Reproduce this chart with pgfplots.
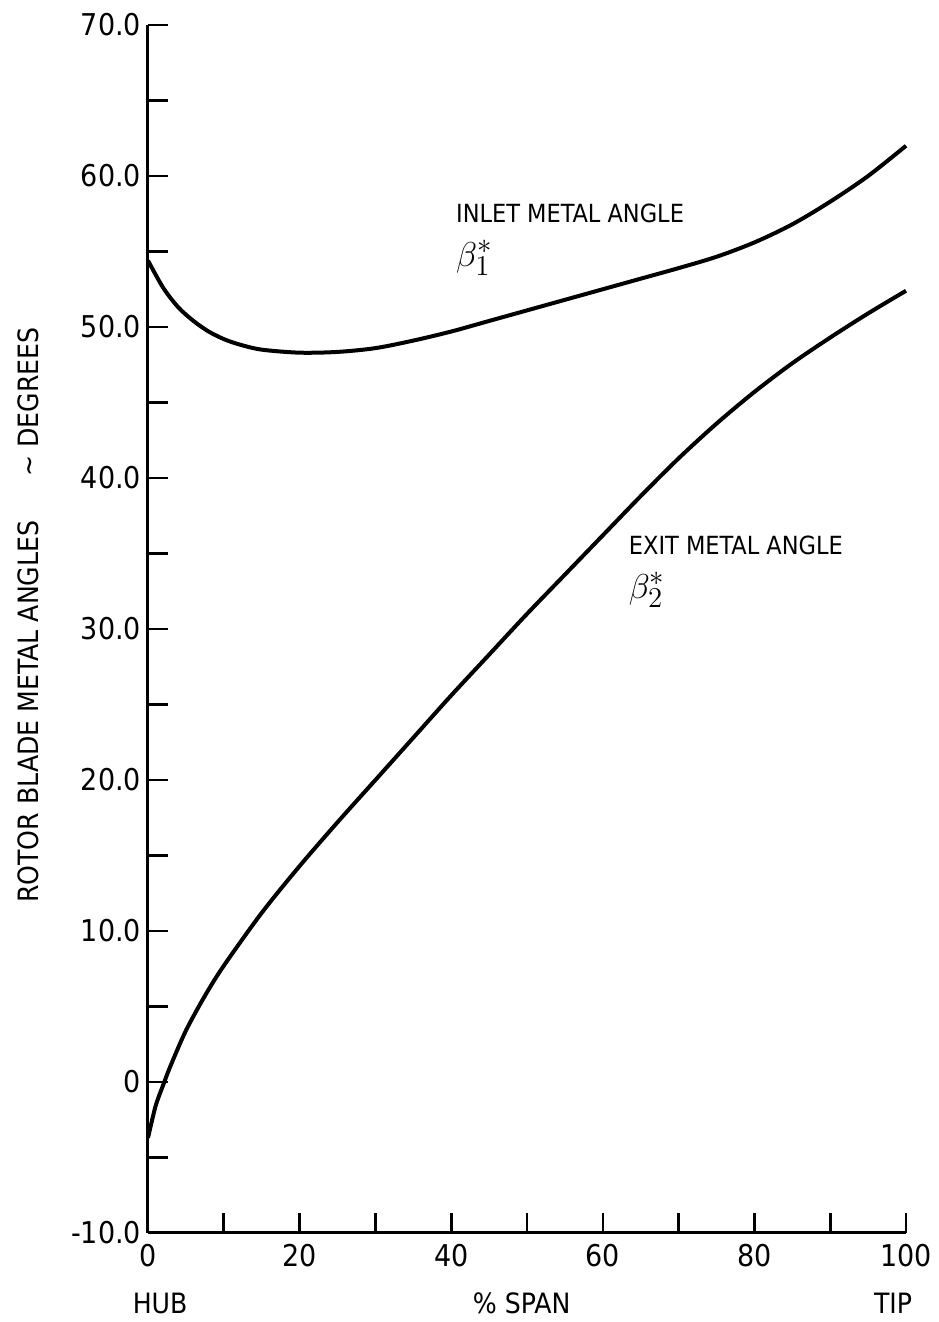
\documentclass[border=0pt]{standalone}
\usepackage{fontspec}
\setmainfont{DejaVu Sans Condensed}
\usepackage{pgfplots}
\pgfplotsset{compat=1.18}
\begin{document}
\begin{tikzpicture}
\begin{axis}[
  at={(0,0)}, anchor=south west,
  scale only axis, width=379pt, height=604pt,
  xmin=0, xmax=100, ymin=-10, ymax=70,
  axis x line*=bottom, axis y line*=left,
  axis line style={-, line width=1.5pt},
  xtick={0,10,...,100},
  xticklabels={0,,20,,40,,60,,80,,100},
  ytick={-10,-5,...,70},
  yticklabels={-10.0,,0,,10.0,,20.0,,30.0,,40.0,,50.0,,60.0,,70.0},
  tick align=inside, major tick length=10pt,
  every tick/.style={black, line width=1.3pt},
  tick label style={font=\fontsize{15}{17}\selectfont},
  xticklabel style={yshift=-2pt},
  clip=false,
]
\addplot[black, line width=2pt, smooth] coordinates {
  (0,54.4) (2,52.6) (4,51.3) (6,50.4) (8,49.7) (10,49.2) (12,48.85)
  (15,48.5) (20,48.3) (25,48.35) (30,48.6) (35,49.1) (40,49.7)
  (45,50.4) (50,51.1) (55,51.8) (60,52.5) (65,53.2) (70,53.9)
  (75,54.65) (80,55.6) (85,56.8) (90,58.3) (95,60.0) (100,62.0)
};
\addplot[black, line width=2pt, smooth] coordinates {
  (0,-3.7) (1,-1.6) (2,-0.2) (3,1.1) (5,3.4) (7.5,5.7) (10,7.7)
  (15,11.2) (20,14.3) (25,17.2) (30,20.0) (35,22.8) (40,25.6)
  (45,28.3) (50,31.0) (55,33.6) (60,36.2) (65,38.8) (70,41.3)
  (75,43.6) (80,45.7) (85,47.6) (90,49.3) (95,50.9) (100,52.4)
};
\node[anchor=north west, inner sep=0pt, align=left, font=\fontsize{12.5}{22}\selectfont] at (axis cs:40.6,58.2)
  {INLET METAL ANGLE\\{\fontsize{19}{22}\selectfont$\beta^{*}_{1}$}};
\node[anchor=north west, inner sep=0pt, align=left, font=\fontsize{12.5}{22}\selectfont] at (axis cs:63.4,36.2)
  {EXIT METAL ANGLE\\{\fontsize{19}{22}\selectfont$\beta^{*}_{2}$}};
\node[font=\fontsize{14}{16}\selectfont] at ([yshift=-35pt]axis cs:1.6,-10) {HUB};
\node[font=\fontsize{14}{16}\selectfont] at ([yshift=-35pt]axis cs:49.3,-10) {\% SPAN};
\node[font=\fontsize{14}{16}\selectfont] at ([yshift=-35pt]axis cs:98.3,-10) {TIP};
\node[rotate=90, font=\fontsize{14}{16}\selectfont] at ([xshift=-60pt,yshift=7pt]rel axis cs:0,0.5)
  {ROTOR BLADE METAL ANGLES\hspace{22pt}\textasciitilde\ DEGREES};
\end{axis}
\path (-74pt,-44.5pt) rectangle (392pt,616.5pt);
\end{tikzpicture}
\end{document}
